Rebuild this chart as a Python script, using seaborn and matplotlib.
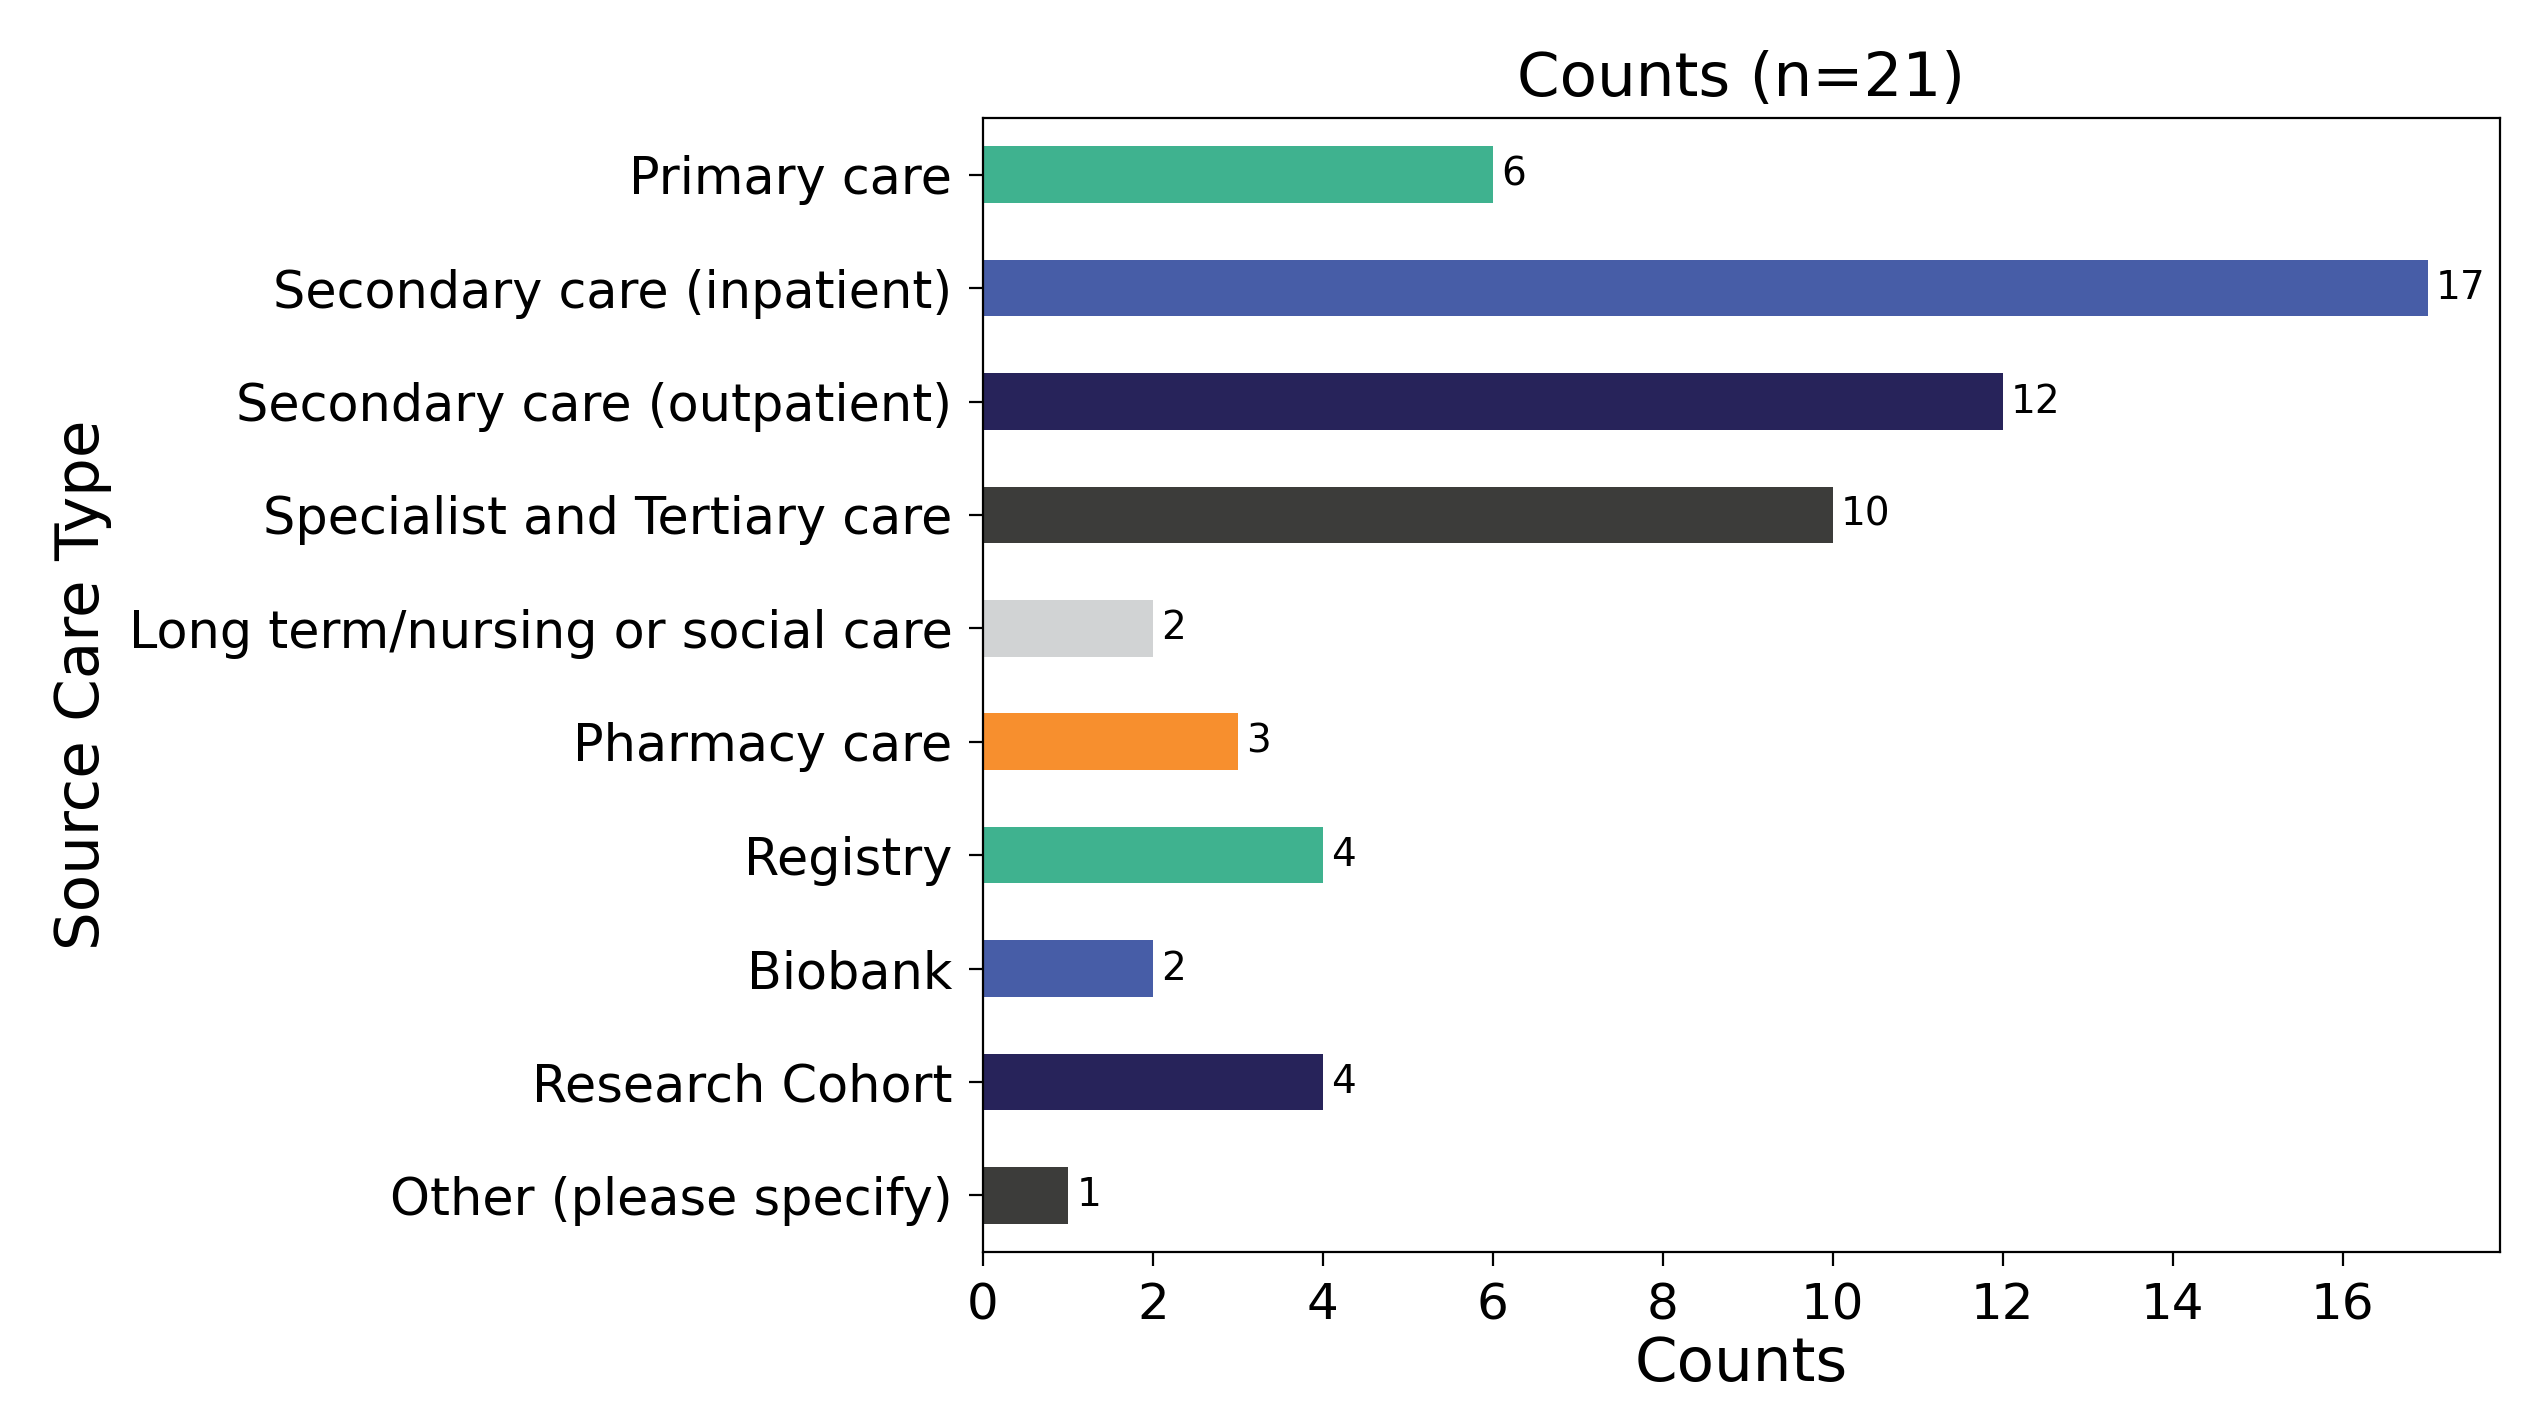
import matplotlib
matplotlib.use("Agg")
import matplotlib.pyplot as plt
import seaborn as sns
import pandas as pd

categories = [
    "Primary care",
    "Secondary care (inpatient)",
    "Secondary care (outpatient)",
    "Specialist and Tertiary care",
    "Long term/nursing or social care",
    "Pharmacy care",
    "Registry",
    "Biobank",
    "Research Cohort",
    "Other (please specify)",
]
counts = [6, 17, 12, 10, 2, 3, 4, 2, 4, 1]
palette = ["#3fb28f", "#475da7", "#27235a", "#3c3c3a", "#d1d3d4", "#f78f2e",
           "#3fb28f", "#475da7", "#27235a", "#3c3c3a"]

df = pd.DataFrame({"category": categories, "count": counts})

fig = plt.figure(figsize=(12.69, 7.015), dpi=200)
ax = fig.add_axes([0.3873, 0.1076, 0.985 - 0.3873, 0.9159 - 0.1076])

sns.barplot(data=df, x="count", y="category", hue="category", palette=palette,
            order=categories, hue_order=categories, width=0.5, legend=False,
            orient="h", ax=ax, saturation=1)

for c in ax.containers:
    ax.bar_label(c, padding=3, fontsize=14)

ax.set_xlim(0, max(counts) * 1.05)
ax.set_ylim(len(categories) - 0.5, -0.5)
ax.set_title("Counts (n=21)", fontsize=22, pad=8)
ax.set_xlabel("Counts", fontsize=22, labelpad=2)
ax.set_ylabel("Source Care Type", fontsize=22, labelpad=6)
ax.tick_params(axis="y", labelsize=18.3, length=5, pad=6)
ax.tick_params(axis="x", labelsize=18, length=5, pad=5.5)
for s in ax.spines.values():
    s.set_visible(True)
    s.set_color("black")

fig.savefig("out.png", dpi=200)
